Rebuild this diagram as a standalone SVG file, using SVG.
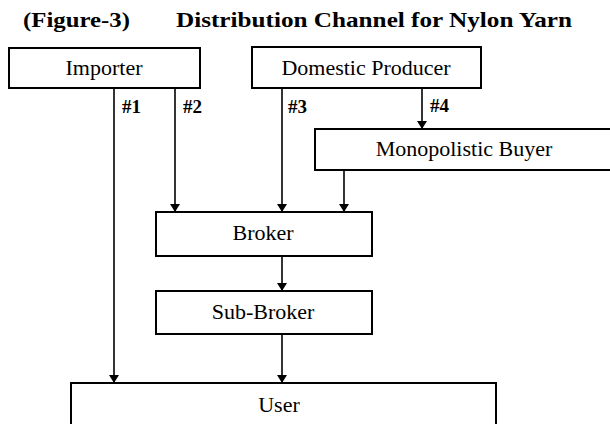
<svg xmlns="http://www.w3.org/2000/svg" width="610" height="424" viewBox="0 0 610 424">
<style>
.box{fill:#fff;stroke:#000;stroke-width:2}
.lbl{font-family:"Liberation Serif","Times New Roman",serif;font-size:22px;fill:#000;text-anchor:middle}
.num{font-family:"Liberation Serif","Times New Roman",serif;font-size:19px;font-weight:bold;fill:#000}
.title{font-family:"Liberation Serif","Times New Roman",serif;font-size:21px;font-weight:bold;fill:#000}
.con{stroke:#000;stroke-width:1.6;fill:none;marker-end:url(#arr)}
</style>
<defs>
<marker id="arr" viewBox="0 0 8 10" refX="8" refY="5" markerWidth="8" markerHeight="10" markerUnits="userSpaceOnUse" orient="auto">
<path d="M0,0 L8,5 L0,10 Z" fill="#000"/>
</marker>
</defs>
<rect width="610" height="424" fill="#fff"/>
<g id="title">
<text class="title" x="23" y="27" textLength="107" lengthAdjust="spacingAndGlyphs">(Figure-3)</text>
<text class="title" x="176" y="27" textLength="396" lengthAdjust="spacingAndGlyphs">Distribution Channel for Nylon Yarn</text>
</g>
<g id="connectors">
<line class="con" x1="114" y1="88" x2="114" y2="383"/>
<line class="con" x1="175" y1="88" x2="175" y2="212"/>
<line class="con" x1="282" y1="88" x2="282" y2="212"/>
<line class="con" x1="422" y1="88" x2="422" y2="129"/>
<line class="con" x1="344" y1="170" x2="344" y2="212"/>
<line class="con" x1="282" y1="256" x2="282" y2="291"/>
<line class="con" x1="282" y1="334" x2="282" y2="383"/>
<text class="num" x="122" y="113">#1</text>
<text class="num" x="183" y="113">#2</text>
<text class="num" x="288" y="113">#3</text>
<text class="num" x="430" y="112">#4</text>
</g>
<g id="importer">
<rect class="box" x="9" y="48" width="191" height="40"/>
<text class="lbl" x="104" y="75">Importer</text>
</g>
<g id="domestic-producer">
<rect class="box" x="252" y="47" width="229" height="41"/>
<text class="lbl" x="366" y="75">Domestic Producer</text>
</g>
<g id="monopolistic-buyer">
<rect class="box" x="315" y="129" width="300" height="41"/>
<text class="lbl" x="464" y="156">Monopolistic Buyer</text>
</g>
<g id="broker">
<rect class="box" x="156" y="212" width="216" height="44"/>
<text class="lbl" x="263" y="240">Broker</text>
</g>
<g id="sub-broker">
<rect class="box" x="156" y="291" width="216" height="43"/>
<text class="lbl" x="263" y="319">Sub-Broker</text>
</g>
<g id="user">
<rect class="box" x="71" y="383" width="425" height="60"/>
<text class="lbl" x="279" y="412">User</text>
</g>
</svg>
